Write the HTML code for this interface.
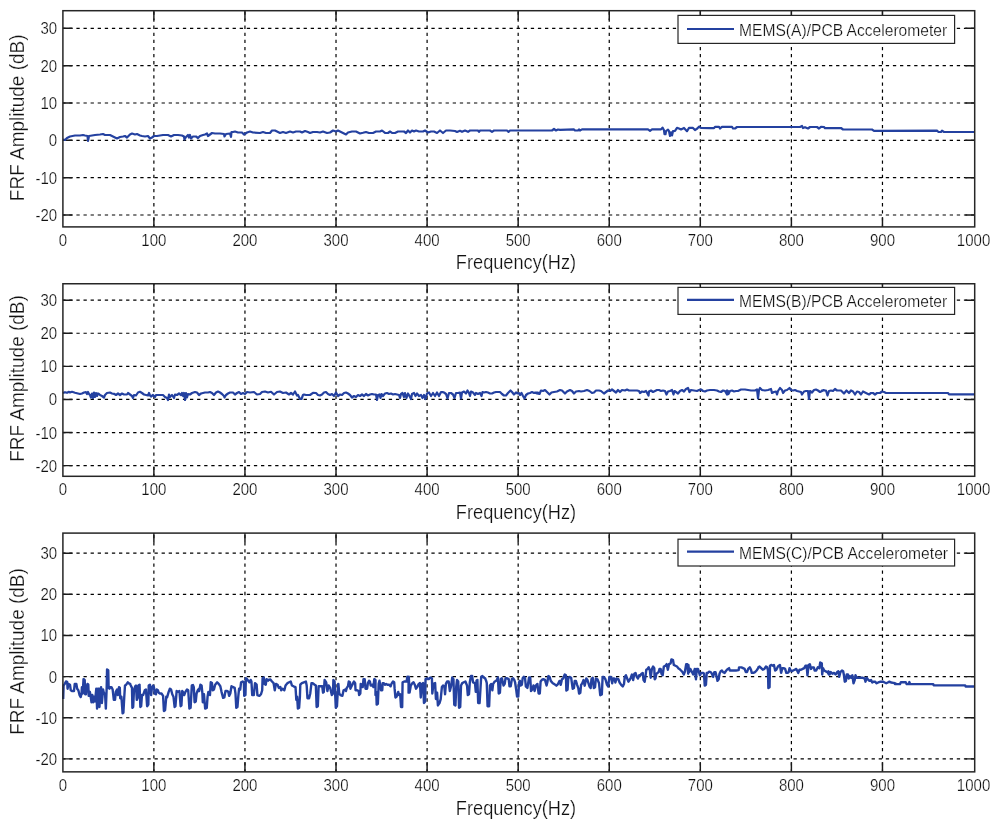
<!DOCTYPE html><html><head><meta charset="utf-8"><style>html,body{margin:0;padding:0;background:#fff;width:1000px;height:828px;overflow:hidden}svg{display:block;will-change:transform}text{font-family:"Liberation Sans",sans-serif;fill:#111;stroke:#fff;stroke-width:0.22px}</style></head><body>
<svg width="1000" height="828" viewBox="0 0 1000 828">
<g><path d="M62.9 28.34H974.7M62.9 65.67H974.7M62.9 103H974.7M62.9 140.33H974.7M62.9 177.66H974.7M62.9 214.99H974.7" stroke="#000" stroke-width="1.2" stroke-dasharray="3.3 3.8" stroke-dashoffset="0.7" fill="none"/><path d="M153.88 226.9V10.7M244.95 226.9V10.7M336.02 226.9V10.7M427.1 226.9V10.7M518.17 226.9V10.7M609.25 226.9V10.7M700.32 226.9V10.7M791.4 226.9V10.7M882.47 226.9V10.7" stroke="#000" stroke-width="1.2" stroke-dasharray="3.3 3.8" stroke-dashoffset="0.8" fill="none"/><path d="M62.9 28.34h9.5M974.7 28.34h-9.5M62.9 65.67h9.5M974.7 65.67h-9.5M62.9 103h9.5M974.7 103h-9.5M62.9 140.33h9.5M974.7 140.33h-9.5M62.9 177.66h9.5M974.7 177.66h-9.5M62.9 214.99h9.5M974.7 214.99h-9.5M153.88 226.9v-9.5M153.88 10.7v9.5M244.95 226.9v-9.5M244.95 10.7v9.5M336.02 226.9v-9.5M336.02 10.7v9.5M427.1 226.9v-9.5M427.1 10.7v9.5M518.17 226.9v-9.5M518.17 10.7v9.5M609.25 226.9v-9.5M609.25 10.7v9.5M700.32 226.9v-9.5M700.32 10.7v9.5M791.4 226.9v-9.5M791.4 10.7v9.5M882.47 226.9v-9.5M882.47 10.7v9.5" stroke="#1a1a1a" stroke-width="1.45" fill="none"/><path d="M63 139.5 65 140 67 138 70 136.5 75 135.5 80 135.5 83 135 85 135.5 87.5 136 88 141 89 136 92 135.5 95 135 100 134.5 103 134 105 135 110 135 112 136 115 137.5 117 138.5 120 137 123 136.5 125 136 127 137.5 130 134.5 132 133.5 135 134.5 137 134 140 135.5 142 136 145 136.5 148 136 150 138.5 152 137.5 154 136 157 136 160 135.5 163 135 168 135 171 136.5 174 135 178 135 182 135.5 184 136.5 184.5 139.5 186 137 188 135 189 137.5 190 135 191 138.5 193 136.5 196 136.5 198 138 200 136 203 135 205 134.5 207 133.5 208 136 210 134.5 212 133 215 133.5 220 133.5 224 134 224.5 136.5 226 134 230 133.5 231 137 231.5 132 233 132 235 131.5 238 132.5 242 132.5 244 134.5 247 132.5 250 131.5 253 132.5 260 133 263 132 266 133 270 133 272 130.5 275 130.5 277 131.5 280 133 283 132 286 133 290 131.5 293 132.5 296 131.5 300 131.5 302 132.5 305 131 308 132 310 133 313 132 317 132 320 132.5 323 131.5 327 133 330 132.5 333 130.5 336 131.5 338 130.5 342 132.5 346 134.5 348 132.5 352 131.5 356 131.5 360 133.5 363 132.8 366 132 369 133 373 133 376 131.5 380 131.5 382 130.5 385 132.8 388 133 390 131.5 392 132.8 395 133 398 131.5 404 131.5 406 133 408 130.5 410 132.5 412 130.5 414 131.5 416 130.5 419 131.5 423 131.5 425 130.5 428 132.5 431 131.5 434 131.5 437 133 440 130.5 443 133 446 130.5 450 130.5 455 131 457 132 460 130.8 462 131.8 465 130.5 468 131.8 470 130.5 478 130.5 479 131.8 480 130.5 490 130.5 492 131.8 494 130.5 507 130.5 508.5 131.8 510 130.5 552 130.5 554 129 556 130.5 558 129.5 560 129.8 574 129.4 575 130.5 578 130.5 579 129.4 580 130.5 582 129.4 648 129.3 650 130.8 652 129.3 661 129.4 662.5 127.6 664 130.3 664.5 134.2 665.5 134.2 666 131.2 668 129.7 669 131.2 670 136 671 132.4 672 135.4 673 131.2 675 130.9 677 127.9 679 128.5 681 129.4 684 127.9 687 131.2 689 127.9 693 127.9 695 130 697 128.8 699 126.7 701 127.9 710 128.2 714 128.2 715 126.8 719 126.8 720 128.5 722 126.8 732 126.8 733 128.5 735 128.5 737 127 800 127 802 126 803 128 805 127.2 808 128.5 810 127 817 127 819 128.5 821 126.8 824 127 825 128.2 841 128 843 129.5 872 129.5 874 130.8 937 130.7 938.5 132 941 132 942 130.7 944 132 974 132" stroke="#2441a0" stroke-width="2.2" fill="none" stroke-linejoin="round"/><rect x="62.9" y="10.7" width="911.8" height="216.2" stroke="#262626" stroke-width="1.5" fill="none"/><rect x="678" y="15.4" width="276.6" height="28" stroke="#262626" stroke-width="1.2" fill="#fff"/><path d="M687 29H734" stroke="#2441a0" stroke-width="2.2"/><text transform="translate(739.0 35.9) scale(1 1.03)" font-size="15.62">MEMS(A)/PCB Accelerometer</text><text transform="translate(57.2 34.34) scale(1 1.13)" font-size="15" text-anchor="end">30</text><text transform="translate(57.2 71.67) scale(1 1.13)" font-size="15" text-anchor="end">20</text><text transform="translate(57.2 109) scale(1 1.13)" font-size="15" text-anchor="end">10</text><text transform="translate(57.2 146.33) scale(1 1.13)" font-size="15" text-anchor="end">0</text><text transform="translate(57.2 183.66) scale(1 1.13)" font-size="15" text-anchor="end">-10</text><text transform="translate(57.2 220.99) scale(1 1.13)" font-size="15" text-anchor="end">-20</text><text transform="translate(62.8 245.6) scale(1 1.13)" font-size="15" text-anchor="middle">0</text><text transform="translate(153.88 245.6) scale(1 1.13)" font-size="15" text-anchor="middle">100</text><text transform="translate(244.95 245.6) scale(1 1.13)" font-size="15" text-anchor="middle">200</text><text transform="translate(336.02 245.6) scale(1 1.13)" font-size="15" text-anchor="middle">300</text><text transform="translate(427.1 245.6) scale(1 1.13)" font-size="15" text-anchor="middle">400</text><text transform="translate(518.17 245.6) scale(1 1.13)" font-size="15" text-anchor="middle">500</text><text transform="translate(609.25 245.6) scale(1 1.13)" font-size="15" text-anchor="middle">600</text><text transform="translate(700.32 245.6) scale(1 1.13)" font-size="15" text-anchor="middle">700</text><text transform="translate(791.4 245.6) scale(1 1.13)" font-size="15" text-anchor="middle">800</text><text transform="translate(882.47 245.6) scale(1 1.13)" font-size="15" text-anchor="middle">900</text><text transform="translate(973.55 245.6) scale(1 1.13)" font-size="15" text-anchor="middle">1000</text><text transform="translate(516 268.5) scale(1 1.1)" font-size="18.2" text-anchor="middle">Frequency(Hz)</text><text transform="translate(24.3 117.8) rotate(-90) scale(1 1.07)" font-size="19" text-anchor="middle">FRF Amplitude (dB)</text></g>
<g><path d="M62.9 300.17H974.7M62.9 333.26H974.7M62.9 366.36H974.7M62.9 399.45H974.7M62.9 432.54H974.7M62.9 465.64H974.7" stroke="#000" stroke-width="1.2" stroke-dasharray="3.3 3.8" stroke-dashoffset="0.7" fill="none"/><path d="M153.88 476.3V283.75M244.95 476.3V283.75M336.02 476.3V283.75M427.1 476.3V283.75M518.17 476.3V283.75M609.25 476.3V283.75M700.32 476.3V283.75M791.4 476.3V283.75M882.47 476.3V283.75" stroke="#000" stroke-width="1.2" stroke-dasharray="3.3 3.8" stroke-dashoffset="0.8" fill="none"/><path d="M62.9 300.17h9.5M974.7 300.17h-9.5M62.9 333.26h9.5M974.7 333.26h-9.5M62.9 366.36h9.5M974.7 366.36h-9.5M62.9 399.45h9.5M974.7 399.45h-9.5M62.9 432.54h9.5M974.7 432.54h-9.5M62.9 465.64h9.5M974.7 465.64h-9.5M153.88 476.3v-9.5M153.88 283.75v9.5M244.95 476.3v-9.5M244.95 283.75v9.5M336.02 476.3v-9.5M336.02 283.75v9.5M427.1 476.3v-9.5M427.1 283.75v9.5M518.17 476.3v-9.5M518.17 283.75v9.5M609.25 476.3v-9.5M609.25 283.75v9.5M700.32 476.3v-9.5M700.32 283.75v9.5M791.4 476.3v-9.5M791.4 283.75v9.5M882.47 476.3v-9.5M882.47 283.75v9.5" stroke="#1a1a1a" stroke-width="1.45" fill="none"/><path d="M63 393 65 392.2 67 392.8 69 391.8 70 392.5 72 391.8 75 392.8 78 393.5 80 394 82 393.5 84 392.5 86 392.2 87 394 88 392 89 394 90 395 91 397.5 92 393.5 93 398 94 392.5 95 397 96 393 97 396 98 393.5 99 394 100 395 102 396 104 397.5 105 395 107 393 110 392.5 112 393.5 114 393.8 116 395 118 393.5 120 395 122 393.5 124 394.5 127 394.5 128 393 130 394.5 132 396 133 398 134 395 136 395.5 138 392.5 140 391.8 142 393 144 394.5 146 395 148 395.5 149 393 150 395.5 151 396.5 153 395 155 397 156 395 158 395 163 395 165 397 167 398 168 400 169 394.5 170 397 172 395 174 398 175 394.5 177 395 179 393.5 181 395 182 393 183 396 184 393 185 400 186 393 187 397.5 188 394 190 394.5 192 393 195 392 197 392.5 199 395 201 393.5 203 393 205 392.5 208 392.5 210 392 212 393 214 395 216 392.5 218 391.5 220 392.5 222 394 224 396 224.5 397.5 226 395 228 393.5 230 392.5 233 392.5 235 394.5 237 393 239 392 241 394 243 393 245 394 247 392 250 392.5 254 392 257 394.5 260 394 262 392 265 391.5 268 392.5 271 391.8 274 394.5 277 392 280 391.5 283 393 286 392.5 289 394.5 291 393 293 394.5 295 391.5 297 395.5 298 395 300 399 301.5 399 303 395 304 394.5 306 395 310 395 313 392.8 316 393 318 395 320 395.5 322 394.5 324 392.5 326 392 328 394 330 395 332 394 334 396 336 392.5 338 396 340 394.5 342 395 344 393 346 392.5 348 393.5 350 395 352 397.5 354 396 356 397 358 395 360 396 362 394.5 364 396 366 394 368 395.5 370 394.5 372 394 374 394.5 376 394.5 377 400 378 395 379.5 394.5 380.5 398 381.5 394 383 396 385 393.5 387 393 389 394 391 393.5 393 394.5 395 394 397 394.5 399 395 400 398 401 394 402.5 393 404 397 405 393 406.5 398 408 393.5 409.5 396 411 399 412 394 414 393 415.5 396 417 393.5 419 396 421 395 422.5 398 424 395 425.5 399 427 393.5 429 392.5 431 396 433 393 435 396 437 392.5 439 396 441 392 443 392 442 392 444 392.5 446 394 447.5 398.5 449 393 451 393 453 394.5 454.5 398 456 393 458 393 460 392.5 461 398.5 462 392.5 464 391.5 466 393.5 467.5 390.5 469 393 470 396 471 391.5 473 392.5 475 395 476 393 478 394 480 393 481.5 396 482.5 392 484 392.5 486 392 488 392.5 490 393.5 492 393.5 494 392.5 496 392 500 392 502 394 504 395.5 506 395.5 508 393 510.5 390.5 512 392 514 394.5 516 392.5 517.5 393.5 519 393 520 395 521.5 393 523 396 524.5 398.5 526 395 528 393.5 530 393 532 392 534 393 536 393 538 392.5 535 392.5 537 393.5 539.5 394 541 390.5 543 391 545 390 547 392 549.5 394.5 551.5 392.5 554 392 557 391.5 560 390 562 390.5 565 393.5 567 391.5 570 390 572 391 574 393.5 576 391.5 579 391 581 391.5 584 391 587 390 589.5 391 592 393 594 392.5 596 390.5 599 390.5 601 391 604 393.5 606 392 608 390.5 610 391 612 389.5 614 391 616 392.5 618 390 620 392 622 390 625 390.5 627 389.5 629 390.5 631 390.5 637 390.5 639 391 640 393 642 391.5 644 392 646 391 648.5 395.5 649 391.5 651 390.5 653 392 655 391 657 390 659 390 661 391 663 390.5 665 391 666.5 394.5 668 391.5 670 391 672 390 673.5 394.5 674.5 391 676 392 678 393.5 680 391 682 390 684 391.5 686 389 688 388 689.5 392 691 390 694 390.5 697 391 699 390 701 389.5 703 391 705 391.5 707 390.5 710 390 714 390 717 390.5 719 391.5 721 392 723 390.5 725 391 727 394.5 728.5 391.5 727 390.5 728.5 394 730 391 732 390.5 734 391.5 736 391 738 391 741 389.5 745 389.5 748 390 751 390.5 755 390.5 757 389.5 758 398.5 759 390 760 388 762 390 765 390.5 768 390 771 389 772 393 774 392 776 391.5 777 394.5 778 391 780 388 782 390 783 393 785 390.5 787 390 789.5 388 791 390 793 390.5 795 390 797 391 799 391.5 801 392 802 394.5 804 391.5 806 391 808 391 809 399 810 391 812 392.5 814 390 816 389.5 818 390.5 820 392 822 391 824 390 822 390.5 826 390.5 827.5 395.5 829 391 831 390.5 833 391 835 389 837 390.5 841 390.5 844 393.5 846.5 390.5 849 393 851 390.5 853 391.5 855 394.5 857 391.5 859 392 861 394.5 863 391.5 865 392.5 867 393.5 869 394.5 871 393 873 393 875 394.5 877 393 880 393 882 391.5 884 392 886 393 948 393 949 394.3 974.5 394.3" stroke="#2441a0" stroke-width="2.2" fill="none" stroke-linejoin="round"/><rect x="62.9" y="283.75" width="911.8" height="192.55" stroke="#262626" stroke-width="1.5" fill="none"/><rect x="678" y="287.4" width="276.6" height="27" stroke="#262626" stroke-width="1.2" fill="#fff"/><path d="M687 299.8H734" stroke="#2441a0" stroke-width="2.2"/><text transform="translate(739.0 307) scale(1 1.03)" font-size="15.62">MEMS(B)/PCB Accelerometer</text><text transform="translate(57.2 306.17) scale(1 1.13)" font-size="15" text-anchor="end">30</text><text transform="translate(57.2 339.26) scale(1 1.13)" font-size="15" text-anchor="end">20</text><text transform="translate(57.2 372.36) scale(1 1.13)" font-size="15" text-anchor="end">10</text><text transform="translate(57.2 405.45) scale(1 1.13)" font-size="15" text-anchor="end">0</text><text transform="translate(57.2 438.54) scale(1 1.13)" font-size="15" text-anchor="end">-10</text><text transform="translate(57.2 471.64) scale(1 1.13)" font-size="15" text-anchor="end">-20</text><text transform="translate(62.8 494.9) scale(1 1.13)" font-size="15" text-anchor="middle">0</text><text transform="translate(153.88 494.9) scale(1 1.13)" font-size="15" text-anchor="middle">100</text><text transform="translate(244.95 494.9) scale(1 1.13)" font-size="15" text-anchor="middle">200</text><text transform="translate(336.02 494.9) scale(1 1.13)" font-size="15" text-anchor="middle">300</text><text transform="translate(427.1 494.9) scale(1 1.13)" font-size="15" text-anchor="middle">400</text><text transform="translate(518.17 494.9) scale(1 1.13)" font-size="15" text-anchor="middle">500</text><text transform="translate(609.25 494.9) scale(1 1.13)" font-size="15" text-anchor="middle">600</text><text transform="translate(700.32 494.9) scale(1 1.13)" font-size="15" text-anchor="middle">700</text><text transform="translate(791.4 494.9) scale(1 1.13)" font-size="15" text-anchor="middle">800</text><text transform="translate(882.47 494.9) scale(1 1.13)" font-size="15" text-anchor="middle">900</text><text transform="translate(973.55 494.9) scale(1 1.13)" font-size="15" text-anchor="middle">1000</text><text transform="translate(516 518.6) scale(1 1.1)" font-size="18.2" text-anchor="middle">Frequency(Hz)</text><text transform="translate(24.3 378.5) rotate(-90) scale(1 1.07)" font-size="19" text-anchor="middle">FRF Amplitude (dB)</text></g>
<g><path d="M62.9 553.21H974.7M62.9 594.34H974.7M62.9 635.47H974.7M62.9 676.6H974.7M62.9 717.73H974.7M62.9 758.86H974.7" stroke="#000" stroke-width="1.2" stroke-dasharray="3.3 3.8" stroke-dashoffset="0.7" fill="none"/><path d="M153.88 771.85V533.1M244.95 771.85V533.1M336.02 771.85V533.1M427.1 771.85V533.1M518.17 771.85V533.1M609.25 771.85V533.1M700.32 771.85V533.1M791.4 771.85V533.1M882.47 771.85V533.1" stroke="#000" stroke-width="1.2" stroke-dasharray="3.3 3.8" stroke-dashoffset="0.8" fill="none"/><path d="M62.9 553.21h9.5M974.7 553.21h-9.5M62.9 594.34h9.5M974.7 594.34h-9.5M62.9 635.47h9.5M974.7 635.47h-9.5M62.9 676.6h9.5M974.7 676.6h-9.5M62.9 717.73h9.5M974.7 717.73h-9.5M62.9 758.86h9.5M974.7 758.86h-9.5M153.88 771.85v-9.5M153.88 533.1v9.5M244.95 771.85v-9.5M244.95 533.1v9.5M336.02 771.85v-9.5M336.02 533.1v9.5M427.1 771.85v-9.5M427.1 533.1v9.5M518.17 771.85v-9.5M518.17 533.1v9.5M609.25 771.85v-9.5M609.25 533.1v9.5M700.32 771.85v-9.5M700.32 533.1v9.5M791.4 771.85v-9.5M791.4 533.1v9.5M882.47 771.85v-9.5M882.47 533.1v9.5" stroke="#1a1a1a" stroke-width="1.45" fill="none"/><path d="M63.19 699.05 63.59 685.49 64.78 683.9 65.98 681.51 67.18 681.9 67.58 688.68 68.37 683.9 69.97 684.7 70.77 690.28 71.96 691.07 73.96 691.07 74.75 683.9 76.35 683.9 77.15 688.68 78.34 690.28 79.54 695.06 80.73 697.06 81.53 693.47 81.93 687.09 82.73 693.47 83.52 679.11 84.72 679.91 85.12 694.26 85.92 694.26 86.71 687.09 87.51 683.9 88.31 684.7 88.71 695.86 89.9 691.87 90.7 696.66 91.5 702.24 92.3 695.06 93.09 702.24 93.89 696.66 95.09 701.44 96.28 688.68 97.08 708.62 97.88 688.68 99.07 688.68 99.47 707.02 100.27 693.47 101.07 687.09 101.87 703.04 103.06 689.48 103.86 692.67 105.06 694.26 105.85 708.62 106.65 688.68 107.05 669.54 108.25 670.34 108.64 687.89 109.44 688.68 110.24 687.09 111.44 687.09 112.63 689.48 113.83 699.85 115.02 699.85 115.82 691.87 117.02 689.48 117.81 695.06 119.01 687.09 119.81 687.89 120.21 698.25 121.4 696.66 122.6 713.4 123.4 712.61 124.19 698.25 124.99 685.49 126.19 684.7 127.78 682.3 128.98 683.5 130.18 683.9 130.39 684.7 131.99 687.89 132.39 707.82 133.18 707.02 133.98 690.28 135.18 686.29 135.97 685.49 136.77 699.85 137.57 698.25 138.37 685.49 139.56 684.7 140.36 707.02 141.16 706.23 141.96 695.06 143.15 695.06 144.75 690.28 145.94 689.48 147.14 706.23 148.33 704.63 148.73 685.49 149.93 684.7 151.13 695.06 151.92 687.89 153.12 685.49 153.92 687.09 154.71 693.47 155.91 694.26 156.71 689.48 157.9 690.28 158.7 692.67 159.9 693.47 161.49 693.47 163.09 695.86 163.89 711.01 165.08 710.21 166.28 696.66 167.07 697.45 168.67 691.87 169.87 688.68 171.06 689.48 172.26 694.26 173.45 696.66 174.65 707.02 175.45 706.23 176.64 691.07 178.24 691.87 179.44 691.07 180.63 706.23 181.43 705.43 182.23 691.07 183.42 692.67 184.22 695.06 185.42 691.87 187.01 689.48 188.21 690.28 189.4 708.62 190.6 707.82 191.8 685.49 192.99 685.09 193.79 687.09 194.59 702.24 195.78 701.44 196.58 693.47 197.78 690.28 198.97 688.68 199.2 691.07 200.39 684.7 201.59 685.49 202.39 693.47 202.78 702.24 203.98 694.26 205.18 708.62 206.77 707.82 207.57 696.66 208.37 691.87 209.96 695.06 210.76 682.3 211.96 683.1 212.75 690.28 213.95 689.48 215.15 684.7 217.14 682.3 218.73 683.9 220.33 686.29 221.52 691.87 223.12 697.85 224.32 697.45 225.51 691.07 227.11 691.07 228.3 691.87 229.1 695.86 230.3 693.47 231.49 686.29 233.09 687.09 234.68 687.89 235.48 693.47 236.28 707.82 237.47 707.02 238.27 696.66 239.07 688.68 240.26 689.48 241.06 682.3 242.66 681.51 243.85 682.3 244.25 695.86 245.45 695.06 245.85 678.32 247.04 679.11 248.24 680.71 249.44 682.3 250.63 679.91 251.43 681.51 252.23 695.06 253.82 695.06 255.02 683.1 256.61 684.7 257.41 695.06 259.4 695.86 261 694.26 262.19 690.28 262.59 678.32 263.79 677.52 264.59 683.9 265.78 684.7 266.58 679.11 268.18 680.71 268.4 679.91 270.39 679.51 271.99 681.51 273.58 683.1 274.78 690.28 275.97 683.9 277.57 684.7 278.77 687.89 280.36 687.09 281.16 690.28 282.35 688.68 284.35 690.28 285.54 685.49 287.54 683.1 289.13 682.3 290.73 681.51 291.92 685.49 293.52 686.29 295.51 687.09 296.31 699.85 297.11 696.66 297.9 708.62 299.1 707.82 299.9 696.66 300.3 684.7 301.89 683.1 303.89 682.3 305.88 681.51 306.68 685.49 307.47 698.25 309.07 698.25 310.26 693.47 311.46 683.1 312.66 683.1 314.65 684.7 315.85 685.49 316.64 707.02 317.84 706.23 318.64 686.29 320.63 686.29 322.23 686.29 323.02 692.67 323.82 691.87 324.62 679.91 326.21 682.3 327.41 691.07 328.61 685.49 330.2 687.89 331.8 695.06 332.99 693.47 333.39 679.91 334.59 681.51 335.78 707.82 336.98 706.23 338.18 683.9 338.4 683.9 339.2 693.47 340.39 695.06 342.39 695.86 343.58 690.28 345.18 689.48 345.97 691.07 346.77 687.89 347.97 686.29 348.77 681.51 349.96 682.3 350.36 688.68 351.56 686.29 352.75 683.9 353.95 681.51 355.15 683.1 355.54 690.28 357.14 690.28 358.73 691.07 359.13 695.06 360.33 693.47 360.73 683.9 361.92 684.7 362.72 687.09 363.52 679.11 364.71 679.11 365.51 688.68 367.11 688.68 367.9 683.1 369.1 680.71 369.9 681.51 370.7 685.49 371.49 685.49 372.29 684.7 373.49 687.09 374.28 679.11 375.48 679.91 375.48 695.06 376.28 691.87 376.68 704.63 377.87 703.83 378.67 683.9 379.47 680.71 380.26 685.49 381.06 690.28 382.26 690.28 382.66 683.1 383.85 683.1 385.05 684.7 386.25 683.9 387.44 684.7 389.04 684.7 390.63 686.29 391.43 683.9 393.02 681.51 394.22 682.3 394.62 688.68 395.42 697.45 396.61 696.66 398.21 691.87 399 695.06 400.2 694.26 401 707.02 402.19 707.02 402.59 682.3 404.19 681.51 406.58 681.51 407.38 676.72 408.57 677.52 408.57 692.67 408.8 676.72 409.59 692.67 410.79 685.49 412.39 683.1 413.58 682.3 414.78 684.7 415.97 688.68 417.17 687.09 418.77 683.9 419.96 683.1 420.76 697.45 421.96 683.9 423.15 683.1 423.95 703.04 425.15 701.44 425.54 679.11 427.14 678.32 428.73 679.11 430.33 677.52 431.92 678.32 432.32 693.47 433.52 683.9 435.11 683.1 435.91 699.05 437.11 692.67 437.9 705.43 439.5 703.04 440.7 699.05 441.89 687.09 443.09 685.49 444.28 686.29 445.08 694.26 445.88 683.9 447.07 681.51 448.67 681.51 449.87 691.07 451.06 686.29 452.26 677.52 453.45 679.11 454.25 704.63 455.45 705.43 456.25 686.29 457.04 679.91 458.24 681.51 459.04 707.82 460.23 707.02 461.03 685.49 462.23 683.1 463.82 682.3 465.42 681.51 467.01 685.49 467.81 695.06 469 694.26 469.8 682.3 471 675.92 472.19 675.92 472.99 682.3 474.99 683.1 475.78 691.87 476.58 680.71 477.38 679.91 478.18 703.04 478.4 702.24 479.59 703.04 480.39 690.28 481.19 676.72 482.39 675.92 483.58 677.52 485.18 678.32 486.37 681.51 486.77 683.1 487.57 706.23 489.16 706.23 489.96 685.49 491.16 683.9 492.35 690.28 493.15 683.9 494.75 681.51 496.34 680.71 497.94 677.52 498.73 693.47 499.93 692.67 500.73 679.11 501.92 678.32 503.52 685.49 504.71 683.9 505.51 678.32 507.11 678.32 508.7 679.11 509.5 686.29 510.7 686.29 511.89 679.11 513.09 678.32 514.28 679.91 515.08 682.3 516.28 690.28 517.07 696.66 518.27 696.66 519.07 682.3 519.87 680.71 520.66 685.49 521.86 684.7 522.66 678.32 523.85 676.72 525.05 678.32 525.85 686.29 527.44 687.89 529.04 677.52 530.23 677.52 531.03 691.07 532.23 689.48 533.42 685.49 534.62 691.07 535.81 685.49 537.41 683.9 538.61 693.47 539.8 693.47 540.6 681.51 541.8 679.91 543.39 679.11 544.99 679.91 546.58 685.49 547.38 682.3 548.18 676.72 548.4 676.1 549.59 676.9 550.79 680.89 552.78 683.28 554.38 684.07 556.37 685.67 557.97 684.07 559.56 680.89 560.76 684.87 561.96 679.29 563.15 678.49 564.75 674.51 565.94 675.3 566.34 690.45 567.54 689.66 568.33 677.7 569.53 676.9 571.13 677.7 572.72 688.86 573.92 688.06 574.71 680.89 575.91 680.89 577.11 684.87 578.3 688.06 579.1 693.64 580.3 692.85 581.09 684.87 582.29 683.28 583.49 680.09 584.68 685.67 586.28 678.49 587.47 680.09 589.47 686.47 590.66 688.06 591.46 679.29 592.66 677.7 593.85 688.06 595.05 687.26 595.85 678.49 597.44 679.29 599.04 683.28 600.23 695.24 601.83 694.44 602.63 676.9 603.82 676.9 605.42 679.29 607.01 684.87 608.21 686.47 609.4 676.9 611 676.9 612.19 683.28 612.99 678.49 614.19 678.49 615.38 682.48 616.58 678.49 618.18 679.29 618.4 679.29 619.59 682.48 621.19 684.87 622.78 686.47 623.98 684.07 624.78 676.9 625.97 675.3 627.17 678.49 628.37 681.68 629.56 680.09 630.76 677.7 631.96 674.51 633.15 680.09 634.35 673.71 635.54 672.91 636.74 676.9 637.94 678.49 639.13 675.3 640.33 675.3 641.52 673.71 642.72 672.91 643.52 680.09 644.71 681.68 645.51 676.1 646.31 669.72 647.51 668.92 648.7 667.33 649.9 670.52 650.7 677.7 651.89 668.92 653.09 666.53 654.28 668.13 654.68 679.29 655.48 678.49 656.28 673.71 657.47 672.91 658.67 672.11 659.47 668.92 660.66 668.92 661.46 673.71 662.66 675.3 663.85 666.53 665.45 665.73 666.64 664.14 667.84 669.72 669.04 664.14 670.63 663.34 671.43 659.35 673.02 660.15 673.82 664.94 675.42 665.73 677.01 666.53 678.21 668.13 679.4 668.92 681 670.52 682.59 672.11 683.79 674.51 684.99 671.32 686.18 664.14 687.38 664.14 688.18 673.71 688.4 664.94 689.2 672.11 690.39 668.92 691.59 671.32 693.18 674.51 694.78 668.92 695.97 679.29 696.77 668.92 697.97 668.92 699.16 672.91 699.96 675.3 701.16 672.91 703.15 672.91 703.95 673.71 704.75 685.67 705.94 684.87 706.74 672.91 707.94 672.91 709.13 671.71 710.73 672.11 711.92 673.71 713.12 676.9 714.32 672.11 715.51 672.11 716.31 675.3 717.51 680.89 718.7 679.29 719.5 673.71 720.7 671.32 721.89 670.52 723.09 672.11 724.68 672.91 726.28 670.52 727.87 668.92 729.07 668.13 729.87 670.52 732.66 670.52 735.85 670.52 738.64 670.12 739.04 667.33 741.43 667.33 743.02 668.13 744.62 668.92 745.81 672.11 747.01 672.11 748.21 668.92 749.8 667.33 751 669.72 751.8 672.91 753.39 672.91 754.99 672.11 756.58 670.52 758.18 668.13 758.4 667.33 759.59 666.53 761.19 668.13 762.78 669.72 764.38 668.92 765.97 666.53 767.17 667.33 767.97 670.52 768.37 688.06 769.56 687.26 769.96 665.73 771.16 664.94 772.75 665.73 773.95 664.94 775.15 670.52 776.34 669.72 777.94 666.53 779.93 664.94 781.13 672.91 782.32 668.13 783.52 668.13 785.11 668.92 786.31 672.91 787.51 672.91 788.7 672.11 789.5 668.13 790.7 670.52 791.89 671.32 793.09 670.52 794.68 669.72 796.28 668.92 797.47 671.32 798.27 672.91 799.47 669.72 801.06 669.72 802.66 668.92 804.25 668.13 805.45 665.73 806.64 665.73 807.44 675.3 808.64 664.94 809.83 664.14 811.03 668.92 812.23 667.33 813.82 667.33 814.62 670.52 816.21 670.52 817.81 667.33 819.4 668.13 820.2 662.54 821.8 663.34 822.19 674.51 822.99 668.13 824.19 670.52 825.78 671.32 827.38 672.11 828.97 674.51 828.4 671.32 829.59 674.51 830.79 672.11 832.39 673.71 833.98 672.91 835.58 674.51 837.17 672.11 838.37 671.32 839.16 676.9 840.36 672.11 841.96 670.52 843.15 671.32 843.95 675.3 844.75 681.68 845.94 680.89 846.74 674.51 847.94 674.51 848.73 678.49 849.93 676.1 851.13 677.7 852.32 675.3 853.52 683.28 854.71 680.09 855.51 675.3 856.71 677.7 858.3 677.7 859.9 677.7 862.29 677.7 864.68 678.49 865.48 681.68 866.68 677.7 867.87 679.29 869.47 680.89 871.06 680.09 872.26 682.48 873.45 681.68 875.05 681.68 876.64 683.28 878.24 682.48 880.63 681.68 883.02 681.68 884.62 682.48 886.21 683.28 887.81 682.48 889.4 681.68 891 682.48 893.39 682.88 894.99 683.28 896.58 684.07 895 684.12 899.95 684.12 900.85 682.32 905.8 682.32 906.7 684.12 908.95 684.12 909.4 682.05 910.12 684.12 933.25 684.12 933.7 685.38 965.21 685.38 965.66 686.55 974.66 686.55" stroke="#2441a0" stroke-width="2.4" fill="none" stroke-linejoin="round"/><rect x="62.9" y="533.1" width="911.8" height="238.75" stroke="#262626" stroke-width="1.5" fill="none"/><rect x="678" y="539.2" width="276.6" height="26.8" stroke="#262626" stroke-width="1.2" fill="#fff"/><path d="M687 551.6H734" stroke="#2441a0" stroke-width="2.2"/><text transform="translate(739.0 558.6) scale(1 1.03)" font-size="15.62">MEMS(C)/PCB Accelerometer</text><text transform="translate(57.2 559.21) scale(1 1.13)" font-size="15" text-anchor="end">30</text><text transform="translate(57.2 600.34) scale(1 1.13)" font-size="15" text-anchor="end">20</text><text transform="translate(57.2 641.47) scale(1 1.13)" font-size="15" text-anchor="end">10</text><text transform="translate(57.2 682.6) scale(1 1.13)" font-size="15" text-anchor="end">0</text><text transform="translate(57.2 723.73) scale(1 1.13)" font-size="15" text-anchor="end">-10</text><text transform="translate(57.2 764.86) scale(1 1.13)" font-size="15" text-anchor="end">-20</text><text transform="translate(62.8 791) scale(1 1.13)" font-size="15" text-anchor="middle">0</text><text transform="translate(153.88 791) scale(1 1.13)" font-size="15" text-anchor="middle">100</text><text transform="translate(244.95 791) scale(1 1.13)" font-size="15" text-anchor="middle">200</text><text transform="translate(336.02 791) scale(1 1.13)" font-size="15" text-anchor="middle">300</text><text transform="translate(427.1 791) scale(1 1.13)" font-size="15" text-anchor="middle">400</text><text transform="translate(518.17 791) scale(1 1.13)" font-size="15" text-anchor="middle">500</text><text transform="translate(609.25 791) scale(1 1.13)" font-size="15" text-anchor="middle">600</text><text transform="translate(700.32 791) scale(1 1.13)" font-size="15" text-anchor="middle">700</text><text transform="translate(791.4 791) scale(1 1.13)" font-size="15" text-anchor="middle">800</text><text transform="translate(882.47 791) scale(1 1.13)" font-size="15" text-anchor="middle">900</text><text transform="translate(973.55 791) scale(1 1.13)" font-size="15" text-anchor="middle">1000</text><text transform="translate(516 814.6) scale(1 1.1)" font-size="18.2" text-anchor="middle">Frequency(Hz)</text><text transform="translate(24.3 651.5) rotate(-90) scale(1 1.07)" font-size="19" text-anchor="middle">FRF Amplitude (dB)</text></g>
</svg></body></html>
